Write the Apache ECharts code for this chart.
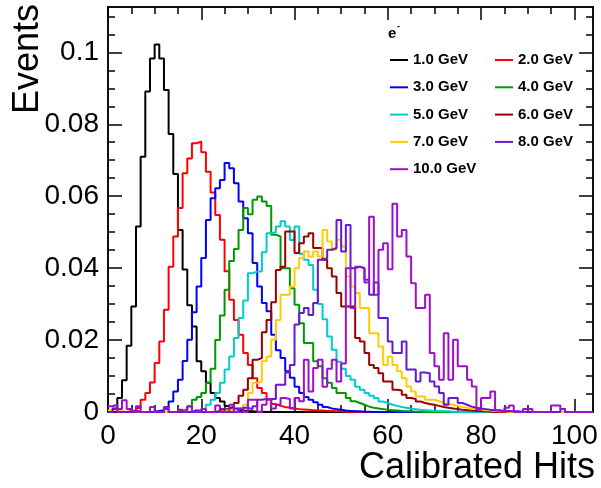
<!DOCTYPE html>
<html><head><meta charset="utf-8">
<script src="https://cdn.jsdelivr.net/npm/echarts@6/dist/echarts.min.js"></script>
<style>html,body{margin:0;padding:0;background:#fff}#c{width:601px;height:488px}</style>
</head><body><div id="c"></div>
<script>
// ---- data (bin width 1, bins start at 0) ----
const seriesNames = ['1.0 GeV','2.0 GeV','3.0 GeV','4.0 GeV','5.0 GeV','6.0 GeV','7.0 GeV','8.0 GeV','10.0 GeV'];
const e1 = [0,0.0010,0.0039,0.0088,0.0184,0.0293,0.0516,0.0710,0.0891,0.0983,
0.1022,0.0983,0.0895,0.0773,0.0662,0.0506,0.0396,0.0297,0.0238,0.0141,
0.0113,0.0081,0.0053,0.0039,0.0029,0.0017,0.0010,0.0006,0.0004,0.0003,
0.0002,0.0001,0.0001,0,0.0001,0,0,0,0,0,
0,0,0,0,0,0,0,0,0,0, 0,0,0,0,0,0,0,0,0,0, 0,0,0,0,0,0,0,0,0,0,
0,0,0,0,0,0,0,0,0,0, 0,0,0,0,0,0,0,0,0,0, 0,0,0,0,0,0,0,0,0,0, 0,0,0,0];
const e2 = [0,0,0,0,0.0002,0.0004,0.0011,0.0034,0.0053,0.0082,
0.0136,0.0196,0.0284,0.0404,0.0488,0.0567,0.0664,0.0705,0.0747,0.0752,
0.0722,0.0668,0.0610,0.0548,0.0479,0.0391,0.0312,0.0256,0.0215,0.0164,
0.0131,0.0094,0.0067,0.0053,0.0034,0.0022,0.0017,0.0014,0.0012,0.0010,
0.0008,0.0007,0.0006,0.0005,0.0004,0.0004,0.0003,0.0003,0.0002,0.0002,
0.0001,0.0001,0.0001,0,0,0,0,0,0,0,
0,0,0,0,0,0,0,0,0,0, 0,0,0,0,0,0,0,0,0,0, 0,0,0,0,0,0,0,0,0,0, 0,0,0,0,0,0,0,0,0,0, 0,0,0,0];
const e3 = [0,0,0,0,0,0,0,0,0,0.0001,
0.0003,0.0005,0.0012,0.0029,0.0057,0.0090,0.0142,0.0201,0.0277,0.0349,
0.0428,0.0534,0.0594,0.0622,0.0645,0.0692,0.0678,0.0636,0.0585,0.0539,
0.0497,0.0414,0.0349,0.0303,0.0280,0.0215,0.0172,0.0150,0.0113,0.0095,
0.0070,0.0053,0.0042,0.0034,0.0027,0.0020,0.0014,0.0010,0.0008,0.0006,
0.0004,0.0003,0.0002,0.0002,0.0001,0.0001,0,0,0,0,
0,0,0,0,0,0,0,0,0,0, 0,0,0,0,0,0,0,0,0,0, 0,0,0,0,0,0,0,0,0,0, 0,0,0,0,0,0,0,0,0,0, 0,0,0,0];
const e4 = [0,0,0,0,0,0,0,0,0,0,
0,0,0,0,0.0001,0.0003,0.0008,0.0015,0.0034,0.0042,
0.0053,0.0081,0.0120,0.0200,0.0268,0.0340,0.0420,0.0453,0.0506,0.0567,
0.0550,0.0590,0.0599,0.0585,0.0573,0.0493,0.0488,0.0400,0.0400,0.0344,
0.0298,0.0247,0.0192,0.0192,0.0141,0.0127,0.0094,0.0081,0.0067,0.0053,
0.0053,0.0039,0.0030,0.0025,0.0020,0.0015,0.0012,0.0010,0.0008,0.0006,
0.0005,0.0004,0.0003,0.0002,0.0002,0.0001,0.0001,0,0,0,
0,0,0,0,0,0,0,0,0,0, 0,0,0,0,0,0,0,0,0,0, 0,0,0,0,0,0,0,0,0,0, 0,0,0,0];
const e5 = [0,0,0,0,0,0,0,0,0,0,
0,0,0,0,0,0,0,0,0.0003,0.0006,
0.0010,0.0020,0.0034,0.0053,0.0081,0.0118,0.0154,0.0206,0.0261,0.0310,
0.0386,0.0390,0.0391,0.0444,0.0497,0.0500,0.0516,0.0530,0.0516,0.0478,
0.0516,0.0440,0.0423,0.0409,0.0340,0.0300,0.0258,0.0210,0.0173,0.0140,
0.0120,0.0100,0.0090,0.0070,0.0062,0.0053,0.0045,0.0039,0.0029,0.0025,
0.0020,0.0017,0.0014,0.0012,0.0010,0.0008,0.0006,0.0005,0.0004,0.0003,
0.0003,0.0002,0.0002,0.0001,0.0001,0,0,0,0,0,
0,0,0,0,0,0,0,0,0,0, 0,0,0,0,0,0,0,0,0,0, 0,0,0,0];
const e6 = [0,0,0,0,0,0,0,0,0,0,
0,0,0,0,0,0,0,0,0,0,
0,0,0,0.0003,0.0006,0.0010,0.0015,0.0025,0.0045,0.0062,
0.0094,0.0145,0.0150,0.0222,0.0256,0.0305,0.0395,0.0404,0.0502,0.0502,
0.0442,0.0469,0.0488,0.0497,0.0456,0.0456,0.0423,0.0400,0.0377,0.0331,
0.0293,0.0293,0.0293,0.0206,0.0196,0.0164,0.0131,0.0122,0.0108,0.0085,
0.0085,0.0062,0.0060,0.0048,0.0039,0.0036,0.0029,0.0025,0.0022,0.0020,
0.0017,0.0014,0.0012,0.0010,0.0008,0.0006,0.0005,0.0004,0.0003,0.0002,
0.0002,0.0001,0,0,0,0,0,0,0,0,
0,0,0,0,0,0,0,0,0,0, 0,0,0,0];
const e7 = [0.0005,0.0008,0.0003,0,0,0.0003,0,0,0,0,
0,0,0,0,0,0,0,0,0,0,
0,0,0,0,0.0003,0.0005,0.0008,0.0010,0.0012,0.0020,
0.0053,0.0081,0.0085,0.0141,0.0154,0.0201,0.0256,0.0326,0.0326,0.0349,
0.0400,0.0428,0.0446,0.0432,0.0446,0.0432,0.0506,0.0474,0.0451,0.0479,
0.0460,0.0377,0.0349,0.0331,0.0289,0.0289,0.0219,0.0219,0.0182,0.0131,
0.0154,0.0131,0.0113,0.0094,0.0071,0.0057,0.0043,0.0043,0.0034,0.0034,
0.0030,0.0025,0.0022,0.0020,0.0017,0.0014,0.0012,0.0010,0.0008,0.0007,
0.0005,0.0004,0.0003,0.0002,0.0002,0.0001,0,0,0,0,
0,0,0,0,0,0,0,0,0,0, 0,0,0,0];
const e8 = [0,0.0008,0,0,0,0.0005,0,0,0,0,
0,0,0.0008,0,0,0,0,0,0.0005,0,
0,0,0,0,0.0008,0,0,0.0010,0,0.0012,
0.0008,0.0016,0.0034,0.0036,0.0036,0.0036,0.0076,0.0076,0.0110,0.0131,
0.0243,0.0275,0.0289,0.0270,0.0303,0.0423,0.0428,0.0451,0.0456,0.0534,
0.0446,0.0520,0.0400,0.0404,0.0400,0.0368,0.0326,0.0360,0.0261,0.0261,
0.0196,0.0164,0.0164,0.0196,0.0118,0.0118,0.0085,0.0110,0.0108,0.0085,
0.0071,0.0053,0.0020,0.0039,0.0039,0.0025,0.0020,0.0015,0.0012,0.0010,
0.0008,0.0006,0.0005,0.0004,0.0003,0.0003,0.0002,0.0002,0.0001,0,
0,0,0,0,0,0,0,0.0008,0,0, 0,0,0,0];
const e10 = [0.0016,0.0020,0.0008,0.0033,0.0008,0,0.0016,0,0,0.0014,
0,0,0.0014,0,0,0.0006,0,0.0016,0,0,
0.0008,0,0,0.0018,0,0,0.0020,0,0.0010,0,
0.0034,0.0034,0,0.0020,0.0036,0.0010,0.0020,0.0039,0.0036,0.0010,
0.0039,0.0030,0.0145,0.0057,0.0122,0.0145,0.0070,0.0120,0.0145,0.0085,
0.0135,0.0400,0.0289,0.0404,0.0400,0.0360,0.0543,0.0326,0.0451,0.0469,
0.0397,0.0579,0.0488,0.0506,0.0432,0.0358,0.0289,0.0289,0.0326,0.0164,
0.0127,0.0090,0.0219,0.0090,0.0201,0.0127,0.0127,0.0090,0.0071,0.0007,
0.0039,0.0039,0.0057,0.0005,0,0.0012,0.0018,0,0,0.0008,
0.0008,0,0,0,0,0.0018,0.0018,0.0008,0,0, 0,0,0,0];

const xMajorTicks = [0,20,40,60,80,100];
const xMinorTicks = [5,10,15,25,30,35,45,50,55,65,70,75,85,90,95];
const yMajorTicks = [0,0.02,0.04,0.06,0.08,0.1];
const yMinorTicks = [0.005,0.01,0.015,0.025,0.03,0.035,0.045,0.05,0.055,0.065,0.07,0.075,0.085,0.09,0.095,0.105,0.11];

// ---- styling ----
const allData = [e1,e2,e3,e4,e5,e6,e7,e8,e10];
const colors = ['#000000','#ff0000','#0000ff','#009900','#00cccc','#990000','#ffcc00','#6619d4','#9b10cc'];
const X_MAX = 104, Y_MAX = 0.1126;
const FONT = 'Liberation Sans, Arial, Helvetica, sans-serif';
const G = {left:108, top:7, width:485, height:405};

function histPoints(vals){
  const pts = vals.map((v,i)=>[i, v]);
  pts.push([vals.length, vals[vals.length-1]]);
  return pts;
}
const AX = {color:'#000', width:1.5};
function xAx(grid, pos, ticks, len, labels){
  return {type:'value', gridIndex:grid, position:pos, min:0, max:X_MAX,
    axisLine:{show:true, onZero:false, lineStyle:AX},
    axisTick:{show:true, inside:true, length:len, customValues:ticks, lineStyle:AX},
    axisLabel:labels ? {show:true, customValues:ticks, margin:10, fontSize:28, fontFamily:FONT, color:'#000'} : {show:false},
    splitLine:{show:false}};
}
function yAx(grid, pos, ticks, len, labels){
  return {type:'value', gridIndex:grid, position:pos, min:0, max:Y_MAX,
    axisLine:{show:true, onZero:false, lineStyle:AX},
    axisTick:{show:true, inside:true, length:len, customValues:ticks, lineStyle:AX},
    axisLabel:labels ? {show:true, customValues:ticks, margin:9, fontSize:28, fontFamily:FONT, color:'#000'} : {show:false},
    splitLine:{show:false}};
}
const leg = (names, left) => ({
  orient:'vertical', left:left, top:52, padding:0, itemGap:11.3,
  itemWidth:18, itemHeight:2, icon:'rect', selectedMode:false,
  textStyle:{fontSize:15, fontWeight:'bold', fontFamily:FONT, color:'#000', lineHeight:16},
  data:names
});

const chart = echarts.init(document.getElementById('c'), null, {renderer:'canvas'});
chart.setOption({
  animation:false,
  backgroundColor:'#fff',
  grid:[G,G,G,G].map(g=>Object.assign({containLabel:false}, g)),
  xAxis:[xAx(0,'bottom',xMajorTicks,13,true), xAx(1,'bottom',xMinorTicks,7,false),
         xAx(2,'top',xMajorTicks,13,false), xAx(3,'top',xMinorTicks,7,false)],
  yAxis:[yAx(0,'left',yMajorTicks,14,true), yAx(1,'left',yMinorTicks,7,false),
         yAx(2,'right',yMajorTicks,14,false), yAx(3,'right',yMinorTicks,7,false)],
  legend:[leg([seriesNames[0],seriesNames[2],seriesNames[4],seriesNames[6],seriesNames[8]],390),
          leg([seriesNames[1],seriesNames[3],seriesNames[5],seriesNames[7]],495)],
  graphic:[
    {type:'text', x:28, y:4, rotation:Math.PI/2,
     style:{text:'Events', font:'36px '+FONT, fill:'#000', align:'right', verticalAlign:'middle'}},
    {type:'text', x:595, y:468,
     style:{text:'Calibrated Hits', font:'36px '+FONT, fill:'#000', align:'right', verticalAlign:'middle'}},
    {type:'text', x:388, y:34,
     style:{text:'e', font:'bold 15px '+FONT, fill:'#000', align:'left', verticalAlign:'middle'}},
    {type:'text', x:397, y:27,
     style:{text:'-', font:'bold 9px '+FONT, fill:'#000', align:'left', verticalAlign:'middle'}}
  ],
  series: allData.map((d,k)=>({
    name:seriesNames[k], type:'line', xAxisIndex:0, yAxisIndex:0,
    step:'end', showSymbol:false, symbol:'none', clip:true,
    lineStyle:{color:colors[k], width:2}, itemStyle:{color:colors[k]},
    data:histPoints(d)
  }))
});
</script></body></html>
